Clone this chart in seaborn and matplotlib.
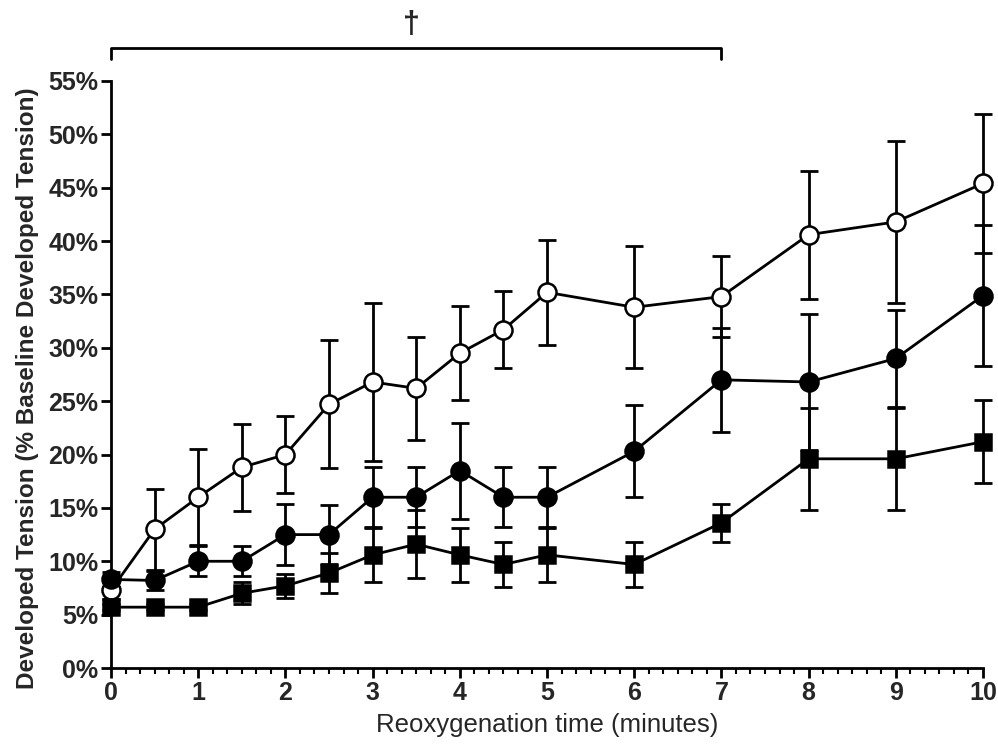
import numpy as np
import pandas as pd
import seaborn as sns
import matplotlib.pyplot as plt
from matplotlib.ticker import MultipleLocator, PercentFormatter

# reoxygenation time points (minutes)
time = [0, 0.5, 1, 1.5, 2, 2.5, 3, 3.5, 4, 4.5, 5, 6, 7, 8, 9, 10]

# open circles
open_mean = [7.3, 13.0, 16.0, 18.8, 20.0, 24.7, 26.8, 26.2, 29.5, 31.7, 35.2, 33.8, 34.8, 40.6, 41.8, 45.4]
open_err = [0.8, 3.8, 4.5, 4.1, 3.6, 6.0, 7.4, 4.8, 4.4, 3.6, 4.9, 5.7, 3.8, 6.0, 7.6, 6.5]

# filled circles
filled_mean = [8.3, 8.2, 10.0, 10.0, 12.5, 12.5, 16.0, 16.0, 18.5, 16.0, 16.0, 20.3, 27.0, 26.8, 29.0, 34.9]
filled_err = [0.7, 0.85, 1.4, 1.4, 2.85, 2.8, 2.8, 2.8, 4.5, 2.8, 2.8, 4.3, 4.9, 6.4, 4.5, 6.6]

# filled squares
square_mean = [5.7, 5.7, 5.7, 7.0, 7.7, 8.9, 10.6, 11.6, 10.6, 9.7, 10.6, 9.7, 13.6, 19.6, 19.6, 21.2]
square_err = [0.3, 0.3, 0.3, 1.05, 1.1, 1.9, 2.5, 3.2, 2.5, 2.1, 2.5, 2.1, 1.8, 4.8, 4.8, 3.9]

sns.set_style("ticks")
plt.rcParams['font.family'] = ['Liberation Sans', 'DejaVu Sans']

fig = plt.figure(figsize=(9.98, 7.53), dpi=100)
ax = fig.add_axes([111 / 998, 1 - 668 / 753, 872 / 998, 587 / 753])

series = [
    (open_mean, open_err, "o", "white"),
    (filled_mean, filled_err, "o", "black"),
    (square_mean, square_err, "s", "black"),
]
for mean, err, marker, face in series:
    df = pd.DataFrame({"time": time, "value": mean})
    ax.errorbar(time, mean, yerr=err, fmt="none", ecolor="black",
                elinewidth=2, capsize=6.5, capthick=2, clip_on=False, zorder=2)
    sns.lineplot(data=df, x="time", y="value", ax=ax, color="black",
                 linewidth=2, marker=marker, markersize=13 if marker == "o" else 12,
                 markerfacecolor=face, markeredgecolor="black", markeredgewidth=1.8,
                 clip_on=False, zorder=3)

ax.set_xlim(0, 10)
ax.set_ylim(0, 55)
ax.xaxis.set_major_locator(MultipleLocator(1))
ax.xaxis.set_minor_locator(MultipleLocator(1 / 6))
ax.yaxis.set_major_locator(MultipleLocator(5))
ax.yaxis.set_major_formatter(PercentFormatter(decimals=0))

sns.despine(ax=ax)
for side in ["left", "bottom"]:
    ax.spines[side].set_linewidth(2)
    ax.spines[side].set_color("black")

ax.tick_params(axis="both", which="major", length=7, width=2, color="black",
               labelsize=18, pad=2)
ax.tick_params(axis="x", which="minor", length=4.5, width=1.5, color="black")
for lab in ax.get_xticklabels() + ax.get_yticklabels():
    lab.set_fontweight("bold")

ax.set_xlabel("Reoxygenation time (minutes)", fontsize=18.5, labelpad=6)
ax.set_ylabel("Developed Tension (% Baseline Developed Tension)", fontsize=17.5,
              fontweight="bold")
ax.yaxis.set_label_coords(-0.083, 0.477)

# significance bracket over 0-7 min
ax.plot([0, 0, 7, 7], [57.1, 58.1, 58.1, 57.1], color="black", linewidth=2,
        clip_on=False)
ax.text(3.45, 58.8, "\u2020", ha="center", va="bottom", fontsize=22,
        fontweight="bold", clip_on=False)

fig.savefig("out.png", dpi=100)
